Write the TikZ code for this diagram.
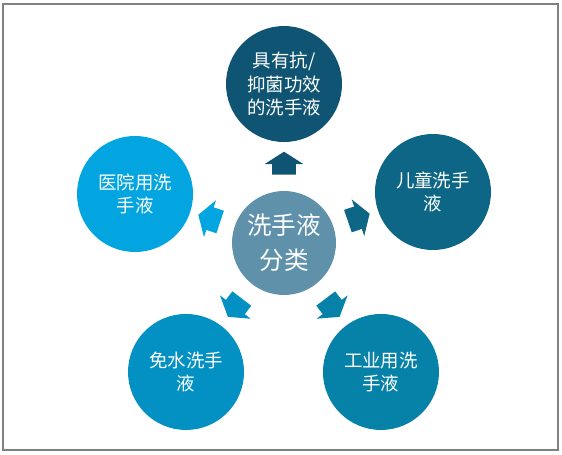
\documentclass[tikz,border=0pt]{standalone}
\usepackage{fontspec}
\setmainfont{Noto Sans CJK SC}
\usepackage{tikz}
\usetikzlibrary{positioning, shapes.arrows}
\usepackage{xcolor}

\definecolor{hubgray}{HTML}{5F92AA}
\definecolor{topdark}{HTML}{0F5573}
\definecolor{rightteal}{HTML}{0E6686}
\definecolor{leftsky}{HTML}{02A5DF}
\definecolor{blblue}{HTML}{0391C4}
\definecolor{brblue}{HTML}{0681A8}

\begin{document}
\begin{tikzpicture}[
        x=0.02cm, y=-0.02cm,
        on grid,
        leaf/.style={circle, minimum size=2.32cm, inner sep=0pt, align=center,
                     text=white, font=\fontsize{10.5}{13.5}\selectfont},
        hubnode/.style={circle, minimum size=2.08cm, inner sep=0pt, align=center,
                        text=white, fill=hubgray, font=\fontsize{14}{20}\selectfont},
        pointer/.style={single arrow, draw=none, inner xsep=0pt, inner ysep=0.23cm,
                        sloped, allow upside down, minimum height=0.46cm,
                        single arrow head extend=0.15cm, single arrow tip angle=115}
    ]

    %% frame
    \useasboundingbox (0,0) rectangle (562,455);
    \draw[gray, line width=1pt] (3,4) rectangle (558,450);

    %% centre
    \node[hubnode] (hub) at (284,243) {洗手液\\分类};

    %% five kinds
    \node[leaf, fill=topdark, above=3.18cm of hub] (antibac)
          {具有抗/\\抑菌功效\\的洗手液};
    \node[leaf, fill=leftsky, above left=0.98cm and 2.98cm of hub] (hospital)
          {医院用洗\\手液};
    \node[leaf, fill=rightteal, above right=1.02cm and 2.98cm of hub] (kids)
          {儿童洗手\\液};
    \node[leaf, fill=blblue, below left=2.58cm and 1.96cm of hub] (waterless)
          {免水洗手\\液};
    \node[leaf, fill=brblue, below right=2.58cm and 1.94cm of hub] (industry)
          {工业用洗\\手液};

    %% pointers
    \path (hub) -- node[pointer, fill=topdark, pos=0.49] (p1) {} (antibac);
    \path (hub) -- node[pointer, fill=leftsky, pos=0.49] (p2) {} (hospital);
    \path (hub) -- node[pointer, fill=rightteal, pos=0.49] (p3) {} (kids);
    \path (hub) -- node[pointer, fill=blblue, pos=0.49] (p4) {} (waterless);
    \path (hub) -- node[pointer, fill=brblue, pos=0.49] (p5) {} (industry);

\end{tikzpicture}
\end{document}
